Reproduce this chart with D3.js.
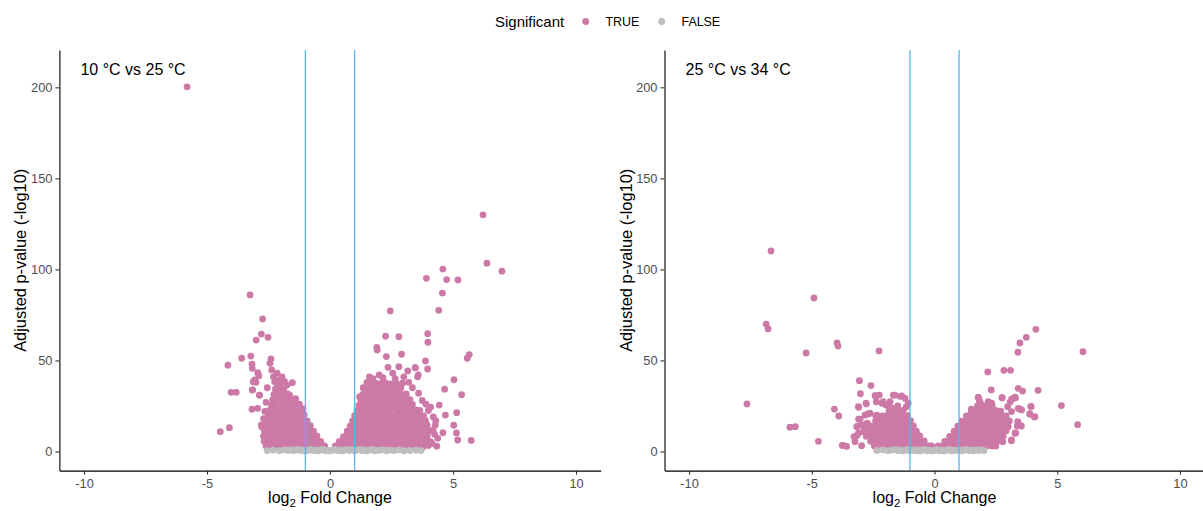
<!DOCTYPE html>
<html><head><meta charset="utf-8">
<script src="https://cdn.jsdelivr.net/npm/d3@7"></script>
<style>body{margin:0;background:#fff} text{font-family:"Liberation Sans",Arial,sans-serif}</style>
</head><body>
<svg id="c" width="1203" height="511"></svg>
<script>
const panelTitles = ["10 °C vs 25 °C", "25 °C vs 34 °C"];
const xTicks = [-10, -5, 0, 5, 10];
const yTicks = [0, 50, 100, 150, 200];
const thresholds = [-1, 1];
const legendTitle = "Significant";
const legendLabels = ["TRUE", "FALSE"];

// Panel A (10 °C vs 25 °C): significant genes [log2FC, -log10 padj]
const sigA = [
[-5.81,200.3],[-3.25,86],[-2.74,72.8],[-2.79,64.5],[-3.0,61.2],[-2.52,62.7],[-3.59,51.2],[-3.22,52.4],[-4.15,47.4],[-4.02,32.5],[-3.81,32.5],[-4.46,10.9],[-4.09,13.1],[-3.16,33.8],[-3.17,23.2],[-2.86,31],[-3.17,47.9],[-3.16,45.7],[-2.4,50.8],[-2.44,48.4],[-2.94,43.3],[-2.89,41.6],[-3.06,39.3],[-3.12,38.3],[-3.01,38],[-2.37,44.8],[-2.3,41],[-2.25,38.3],[-1.53,37.8],[-3.14,33.8],[-2.87,30.9],[-2.94,23.7],[-2.79,14.6],[-2.77,13.4],[-2.64,8.1],[-2.57,6.3],[-1.64,31],
[-2.1,39],[-1.95,41],[-2.15,43],[-1.75,36.5],[-1.85,38.5],[-2.55,35],[-2.6,27],[-2.65,22],[-2.7,18],[-1.4,29],[-1.25,26],[-1.1,23.5],
[-2.6,3.0],[-2.4,3.2],[-2.2,2.8],[-2.0,3.1],[-1.8,2.9],[-1.6,3.3],[-1.4,2.8],[-1.2,3.0],[-1.0,3.2],[-0.8,2.8],[-0.6,3.1],[-0.4,2.9],[-0.22,3.0],
[-2.68,5.6],[-2.5,5.9],[-2.3,5.5],[-2.1,6.0],[-1.9,5.6],[-1.7,5.8],[-1.5,5.5],[-1.3,6.1],[-1.1,5.6],[-0.9,5.9],[-0.7,5.7],[-0.5,6.0],[-0.38,5.5],
[-2.7,8.4],[-2.5,8.7],[-2.3,8.3],[-2.1,8.8],[-1.9,8.4],[-1.7,8.6],[-1.5,8.3],[-1.3,8.7],[-1.1,8.5],[-0.9,8.8],[-0.7,8.4],[-0.53,8.6],
[-2.66,11.1],[-2.45,11.5],[-2.25,11.2],[-2.05,11.6],[-1.85,11.1],[-1.65,11.4],[-1.45,11.3],[-1.25,11.7],[-1.05,11.1],[-0.85,11.4],[-0.67,11.2],
[-2.6,14.0],[-2.4,14.3],[-2.2,13.9],[-2.0,14.4],[-1.8,14.0],[-1.6,14.2],[-1.4,14.1],[-1.2,14.5],[-1.0,13.9],[-0.8,14.2],
[-2.55,16.9],[-2.35,17.3],[-2.15,16.8],[-1.95,17.2],[-1.75,16.9],[-1.55,17.1],[-1.35,17.0],[-1.15,17.4],[-0.93,16.8],
[-2.5,19.8],[-2.3,20.2],[-2.1,19.7],[-1.9,20.1],[-1.7,19.8],[-1.5,20.0],[-1.3,19.9],[-1.05,20.2],
[-2.45,22.7],[-2.25,23.1],[-2.05,22.6],[-1.85,23.0],[-1.65,22.7],[-1.45,22.9],[-1.22,22.8],
[-2.38,25.6],[-2.18,26.0],[-1.98,25.5],[-1.78,25.9],[-1.58,25.6],[-1.4,25.8],
[-2.33,28.5],[-2.13,28.9],[-1.93,28.4],[-1.73,28.8],[-1.56,28.5],
[-2.28,31.4],[-2.08,31.8],[-1.88,31.3],[-1.72,31.6],
[-2.22,34.3],[-2.02,34.7],[-1.88,34.2],
[-2.15,37.2],[-2.0,37.6],
[6.22,130],[6.38,103.4],[6.99,99],[4.59,100.2],[3.92,95.1],[4.74,94.4],[5.2,94.2],[4.57,87],[4.42,77.5],[2.45,77.2],[3.97,64.7],[3.98,60],[2.26,63.3],[2.8,63],[1.9,57.2],[1.92,55.8],[2.29,52.1],[2.91,53.4],[3.88,49.7],[5.58,51.2],[5.66,53.2],[5.04,39.4],[4.66,34.2],[5.35,31.2],[5.15,21.3],[4.69,20],[4.44,25.5],[5.03,14.4],[5.14,10.2],[5.19,6.3],[5.74,6.1],[4.59,10.3],[4.28,14.6],[3.46,46],[3.59,42],[3.56,41],[3.16,44.2],[2.36,46.2],[2.8,46.6],[3.47,46],[3.97,45.3],[4.09,24.4],[4.19,11.8],[4.38,7.2],[4.34,2.9],
[1.2,30],[1.35,35],[1.6,41],[1.75,40],[1.5,38],[2.0,42],[2.15,40.5],[2.55,43],[2.65,40],[3.0,41],[3.2,38],[3.35,35],[2.95,37.5],[3.6,32],[3.75,28],[3.9,26],[4.0,22.5],[4.2,19],[4.3,17],[4.15,4.5],[4.25,9.5],
[0.22,3.0],[0.41,3.2],[0.6,2.8],[0.81,3.1],[1.0,2.9],[1.2,3.3],[1.41,2.8],[1.6,3.0],[1.8,3.2],[2.01,2.8],[2.2,3.1],[2.4,2.9],[2.6,3.3],[2.79,2.8],[3.0,3.0],[3.2,3.2],[3.4,2.9],[3.6,3.1],[3.8,2.8],[4.0,3.3],
[0.38,5.5],[0.55,5.9],[0.72,5.6],[0.9,6.0],[1.1,5.5],[1.3,5.8],[1.5,5.6],[1.7,6.1],[1.9,5.5],[2.1,5.8],[2.3,5.7],[2.5,6.0],[2.7,5.4],[2.9,5.9],[3.1,5.6],[3.3,5.8],[3.5,5.5],[3.7,6.1],[3.9,5.7],[4.08,5.4],
[0.55,8.2],[0.75,8.6],[0.95,8.3],[1.15,8.8],[1.35,8.4],[1.55,8.7],[1.75,8.2],[1.95,8.6],[2.15,8.5],[2.35,8.9],[2.55,8.3],[2.75,8.6],[2.95,8.4],[3.15,8.8],[3.35,8.2],[3.55,8.6],[3.75,8.5],[3.95,8.3],
[0.7,11.1],[0.88,11.5],[1.06,11.2],[1.25,11.6],[1.45,11.1],[1.65,11.4],[1.85,11.3],[2.05,11.7],[2.25,11.1],[2.45,11.5],[2.65,11.2],[2.85,11.4],[3.05,11.6],[3.25,11.1],[3.45,11.4],[3.65,11.3],[3.85,11.6],[4.02,11.1],
[0.82,13.9],[1.0,14.3],[1.2,14.0],[1.4,14.4],[1.6,13.9],[1.8,14.2],[2.0,14.1],[2.2,14.5],[2.4,13.9],[2.6,14.2],[2.8,14.0],[3.0,14.4],[3.2,14.1],[3.4,13.8],[3.6,14.3],[3.8,14.0],[3.95,14.4],
[0.92,16.8],[1.1,17.2],[1.3,16.9],[1.5,17.3],[1.7,16.8],[1.9,17.1],[2.1,17.0],[2.3,17.4],[2.5,16.8],[2.7,17.1],[2.9,17.0],[3.1,17.3],[3.3,16.9],[3.5,17.2],[3.7,16.8],[3.88,17.1],
[1.0,19.7],[1.2,20.1],[1.4,19.8],[1.6,20.2],[1.8,19.7],[2.0,20.0],[2.2,19.9],[2.4,20.3],[2.6,19.7],[2.8,20.0],[3.0,19.8],[3.2,20.2],[3.4,19.9],[3.6,20.1],[3.8,19.6],
[1.1,22.6],[1.3,23.0],[1.5,22.7],[1.7,23.1],[1.9,22.6],[2.1,22.9],[2.3,22.8],[2.5,23.2],[2.7,22.6],[2.9,22.9],[3.1,22.7],[3.3,23.1],[3.5,22.8],[3.65,22.5],
[1.18,25.5],[1.36,25.9],[1.55,25.6],[1.75,26.0],[1.95,25.5],[2.15,25.8],[2.35,25.7],[2.55,26.1],[2.75,25.5],[2.95,25.8],[3.15,25.6],[3.35,25.9],
[1.26,28.4],[1.45,28.8],[1.65,28.5],[1.85,28.9],[2.05,28.4],[2.25,28.7],[2.45,28.6],[2.65,29.0],[2.85,28.4],[3.05,28.7],[3.25,28.5],
[1.33,31.3],[1.52,31.7],[1.72,31.4],[1.92,31.8],[2.12,31.3],[2.32,31.6],[2.52,31.5],[2.72,31.9],[2.92,31.3],[3.1,31.6],
[1.5,34.2],[1.7,34.6],[1.9,34.3],[2.1,34.7],[2.3,34.2],[2.5,34.5],[2.7,34.4],[2.88,34.8],
[1.65,37.1],[1.85,37.5],[2.05,37.2],[2.25,37.6],[2.45,37.1],[2.7,37.4]
];
// Panel A: not significant
const nsA = [
[-2.55,0.5],[-2.3,0.7],[-2.05,0.4],[-1.85,0.9],[-1.7,0.6],[-1.6,1.0],[-1.5,0.4],[-1.4,0.8],[-1.3,1.1],[-1.2,0.5],[-1.1,0.9],[-1.0,0.3],[-0.9,0.7],[-0.8,1.2],[-0.7,0.5],[-0.6,0.9],[-0.5,0.3],[-0.4,0.7],[-0.3,1.1],[-0.2,0.4],[-0.1,0.8],[0,0.3],[0.1,0.7],[0.2,1.1],[0.3,0.5],[0.4,0.9],[0.5,0.3],[0.6,0.8],[0.7,1.2],[0.8,0.5],[0.9,1.0],[1.0,0.4],[1.1,0.8],[1.2,1.1],[1.3,0.5],[1.4,0.9],[1.5,0.3],[1.6,0.7],[1.7,1.1],[1.8,0.4],[1.9,0.8],[2.0,0.6],[2.15,1.0],[2.3,0.4],[2.45,0.8],[2.6,0.5],[2.8,0.9],[3.0,0.4],[3.25,0.6],[3.5,0.7],[3.7,0.5]
];

// Panel B (25 °C vs 34 °C)
const sigB = [
[-6.66,110.1],[-6.86,70],[-6.78,67.3],[-4.91,84.3],[-5.23,54.1],[-3.97,59.6],[-3.93,57.9],[-2.26,55.2],[-7.64,26.1],[-3.06,38.9],[-2.59,36.2],[-3.02,31.7],[-4.08,23.3],[-3.9,19.5],[-3.09,24.3],[-2.78,26.1],[-5.89,13.3],[-5.67,13.6],[-4.73,5.6],[-3.76,3.4],[-3.58,2.8],[-2.97,3.2],[-3.09,17.7],[-3.14,13.8],[-3.17,8.7],[-2.41,30.5],[-2.25,31],[-2.37,27.3],[-2.14,26.5],[-1.62,30.9],[-1.4,30.3],[-1.81,27.3],[-2.72,20.6],[-2.4,19.7],[-2.92,14.4],[-2.82,11.8],[-1.68,31],[-1.34,30.5],[-1.2,29.2],[-1.07,26.5],[-2.42,30.7],[-2.79,26.5],[-3.1,24.6],[-2.09,27.3],[-1.98,25.5],[-3.03,17.7],[-2.83,20],[-2.63,21],[-2.35,20],[-3.17,13.6],[-2.96,14.6],[-2.74,15.5],[-3.1,10],[-2.9,10.9],[-3.24,5.4],[-3.28,8.1],[-3.72,3.2],[-1.15,24.5],[-1.5,25],[-1.75,24],
[-2.45,3.0],[-2.25,3.2],[-2.05,2.9],[-1.85,3.1],[-1.65,3.0],[-1.45,3.3],[-1.25,2.9],[-1.05,3.0],[-0.85,3.2],[-0.65,2.9],[-0.45,3.1],[-0.25,3.0],[-0.12,3.0],
[-2.6,5.6],[-2.4,5.9],[-2.2,5.5],[-2.0,6.0],[-1.8,5.6],[-1.6,5.8],[-1.4,5.5],[-1.2,5.9],[-1.0,5.6],[-0.8,5.8],[-0.6,5.5],[-0.42,5.8],
[-2.78,8.3],[-2.55,8.6],[-2.35,8.2],[-2.15,8.7],[-1.95,8.3],[-1.75,8.5],[-1.55,8.2],[-1.35,8.6],[-1.15,8.4],[-0.95,8.7],[-0.75,8.3],[-0.6,8.5],
[-2.72,11.1],[-2.5,11.4],[-2.3,11.0],[-2.1,11.5],[-1.9,11.1],[-1.7,11.3],[-1.5,11.2],[-1.3,11.6],[-1.1,11.0],[-0.9,11.3],[-0.74,11.1],
[-2.6,13.9],[-2.4,14.2],[-2.2,13.8],[-2.0,14.3],[-1.8,13.9],[-1.6,14.1],[-1.4,14.0],[-1.2,14.4],[-1.0,13.9],[-0.86,14.1],
[-2.4,16.7],[-2.2,17.0],[-2.0,16.6],[-1.8,17.1],[-1.6,16.7],[-1.4,16.9],[-1.2,16.8],[-0.98,17.0],
[-2.12,19.5],[-1.92,19.8],[-1.72,19.4],[-1.52,19.9],[-1.32,19.5],[-1.1,19.7],
[-1.85,22.3],[-1.65,22.6],[-1.45,22.2],[-1.28,22.5],
[4.13,67.1],[3.74,62.7],[3.48,59.6],[3.4,54.5],[2.17,43.7],[2.83,44.6],[3.1,44.6],[4.22,33.6],[5.17,25.2],[5.83,14.7],[6.05,54.8],[2.31,33.8],[3.41,34.7],[3.59,33.2],[2.75,29.5],[3.19,29],[3.3,29.4],[3.93,24.8],[3.88,20.8],[4.07,18.9],[3.39,16.4],[3.54,14],[3.31,10.2],[3.13,5.9],[3.08,27.2],[3.48,23.2],[1.8,29.2],[1.83,27.3],[1.78,29.8],[1.85,27.3],[2.19,27.3],[2.33,26.5],[2.76,29.5],[3.14,28.7],[3.28,29.8],[1.5,23.3],[2.98,24.6],[3.14,21.9],[3.41,23.7],[3.55,22.8],[3.93,24.6],[3.89,20.4],[4.09,19.1],[3.41,15.5],[3.37,14],[3.28,10],[3.14,6.3],[2.87,12.7],[3.0,13.6],[2.78,5.4],[2.37,3.2],[2.26,4.5],
[0.15,3.0],[0.35,3.2],[0.55,2.9],[0.75,3.1],[0.95,3.0],[1.15,3.3],[1.35,2.9],[1.55,3.0],[1.75,3.2],[1.95,2.9],[2.15,3.1],[2.35,3.0],[2.5,3.0],
[0.42,5.6],[0.6,5.9],[0.8,5.5],[1.0,6.0],[1.2,5.6],[1.4,5.8],[1.6,5.5],[1.8,5.9],[2.0,5.6],[2.2,5.8],[2.4,5.5],[2.62,5.8],
[0.62,8.3],[0.82,8.6],[1.02,8.2],[1.22,8.7],[1.42,8.3],[1.62,8.5],[1.82,8.2],[2.02,8.6],[2.22,8.4],[2.42,8.7],[2.62,8.3],[2.8,8.5],
[0.8,11.1],[1.0,11.4],[1.2,11.0],[1.4,11.5],[1.6,11.1],[1.8,11.3],[2.0,11.2],[2.2,11.6],[2.4,11.0],[2.6,11.3],[2.8,11.1],[2.92,11.4],
[0.95,13.9],[1.15,14.2],[1.35,13.8],[1.55,14.3],[1.75,13.9],[1.95,14.1],[2.15,14.0],[2.35,14.4],[2.55,13.9],[2.75,14.1],[2.98,14.0],
[1.12,16.7],[1.3,17.0],[1.5,16.6],[1.7,17.1],[1.9,16.7],[2.1,16.9],[2.3,16.8],[2.5,17.2],[2.7,16.7],[2.9,16.9],[3.05,16.8],
[1.3,19.5],[1.5,19.8],[1.7,19.4],[1.9,19.9],[2.1,19.5],[2.3,19.7],[2.5,19.6],[2.7,19.9],[2.92,19.5],
[1.5,22.3],[1.7,22.6],[1.9,22.2],[2.1,22.7],[2.3,22.3],[2.5,22.5],[2.7,22.2],
[1.75,25.1],[1.95,25.4],[2.15,25.0],[2.35,25.3]
];
const nsB = [
[-2.35,0.6],[-2.1,0.9],[-1.9,0.4],[-1.75,0.8],[-1.6,1.1],[-1.5,0.5],[-1.4,0.9],[-1.3,0.3],[-1.2,0.7],[-1.1,1.1],[-1.0,0.4],[-0.9,0.8],[-0.8,0.5],[-0.7,1.0],[-0.6,0.3],[-0.5,0.7],[-0.4,1.1],[-0.3,0.4],[-0.2,0.8],[-0.1,0.3],[0,0.6],[0.1,1.0],[0.2,0.4],[0.3,0.8],[0.4,0.3],[0.5,0.7],[0.6,1.1],[0.7,0.4],[0.8,0.8],[0.9,0.5],[1.0,1.0],[1.1,0.3],[1.2,0.7],[1.3,1.1],[1.4,0.5],[1.5,0.9],[1.6,0.4],[1.7,0.8],[1.8,0.6],[1.9,1.0],[2.02,0.5]
];

const PINK = "#CC79A7", GREY = "#BEBEBE", BLUE = "#56B4E9";
const svg = d3.select("#c");
const plotTop = 50, plotBottom = 470.6, R = 3.4;
const y = d3.scaleLinear().domain([-10.5, 220.5]).range([plotBottom, plotTop]);

const panels = [
  {title: panelTitles[0], sig: sigA, ns: nsA, x0: 59.4, x1: 600.6},
  {title: panelTitles[1], sig: sigB, ns: nsB, x0: 664.5, x1: 1204.5}
];

panels.forEach((p, i) => {
  const x = d3.scaleLinear().domain([-11, 11]).range([p.x0, p.x1]);
  const g = svg.append("g");
  g.selectAll("circle.sig").data(p.sig).join("circle").attr("class", "sig")
    .attr("cx", d => x(d[0])).attr("cy", d => y(d[1])).attr("r", R).attr("fill", PINK);
  g.selectAll("circle.ns").data(p.ns).join("circle").attr("class", "ns")
    .attr("cx", d => x(d[0])).attr("cy", d => y(d[1])).attr("r", R).attr("fill", GREY);
  g.selectAll("line.th").data(thresholds).join("line").attr("class", "th")
    .attr("x1", d => x(d)).attr("x2", d => x(d)).attr("y1", plotTop).attr("y2", plotBottom)
    .attr("stroke", BLUE).attr("stroke-width", 1.3);

  const xa = g.append("g").attr("transform", `translate(0,${plotBottom})`)
    .call(d3.axisBottom(x).tickValues(xTicks).tickFormat(d => String(d)).tickSize(4).tickSizeOuter(0).tickPadding(4));
  const ya = g.append("g").attr("transform", `translate(${p.x0},0)`)
    .call(d3.axisLeft(y).tickValues(yTicks).tickFormat(d => String(d)).tickSize(4).tickSizeOuter(0).tickPadding(3));
  [xa, ya].forEach(a => {
    a.select(".domain").attr("stroke", "#000").attr("stroke-width", 1.1);
    a.selectAll(".tick line").attr("stroke", "#333").attr("stroke-width", 1.1);
    a.selectAll(".tick text").attr("fill", "#4D4D4D").style("font-size", "12.8px")
      .style("font-family", '"Liberation Sans", Arial, sans-serif');
  });

  g.append("text").attr("x", p.x0 + 21).attr("y", 75).attr("font-size", 16).attr("fill", "#000").text(p.title);

  const xt = g.append("text").attr("x", x(0)).attr("y", 503)
    .attr("text-anchor", "middle").attr("font-size", 16).attr("fill", "#000");
  xt.append("tspan").text("log");
  xt.append("tspan").attr("font-size", 11.5).attr("dy", 4).text("2");
  xt.append("tspan").attr("dy", -4).text(" Fold Change");

  g.append("text").attr("transform", `translate(${p.x0 - 33},${(plotTop + plotBottom) / 2}) rotate(-90)`)
    .attr("text-anchor", "middle").attr("font-size", 16.4).attr("fill", "#000").text("Adjusted p-value (-log10)");
});

// legend
const lg = svg.append("g");
lg.append("text").attr("x", 495).attr("y", 27).attr("font-size", 15).attr("fill", "#000").text(legendTitle);
const keyColors = [PINK, GREY];
const keyX = [585.7, 661.7];
legendLabels.forEach((lab, i) => {
  lg.append("circle").attr("cx", keyX[i]).attr("cy", 21.5).attr("r", R).attr("fill", keyColors[i]);
  lg.append("text").attr("x", keyX[i] + 19.8).attr("y", 26).attr("font-size", 12.4).attr("fill", "#000").text(lab);
});
</script>
</body></html>
